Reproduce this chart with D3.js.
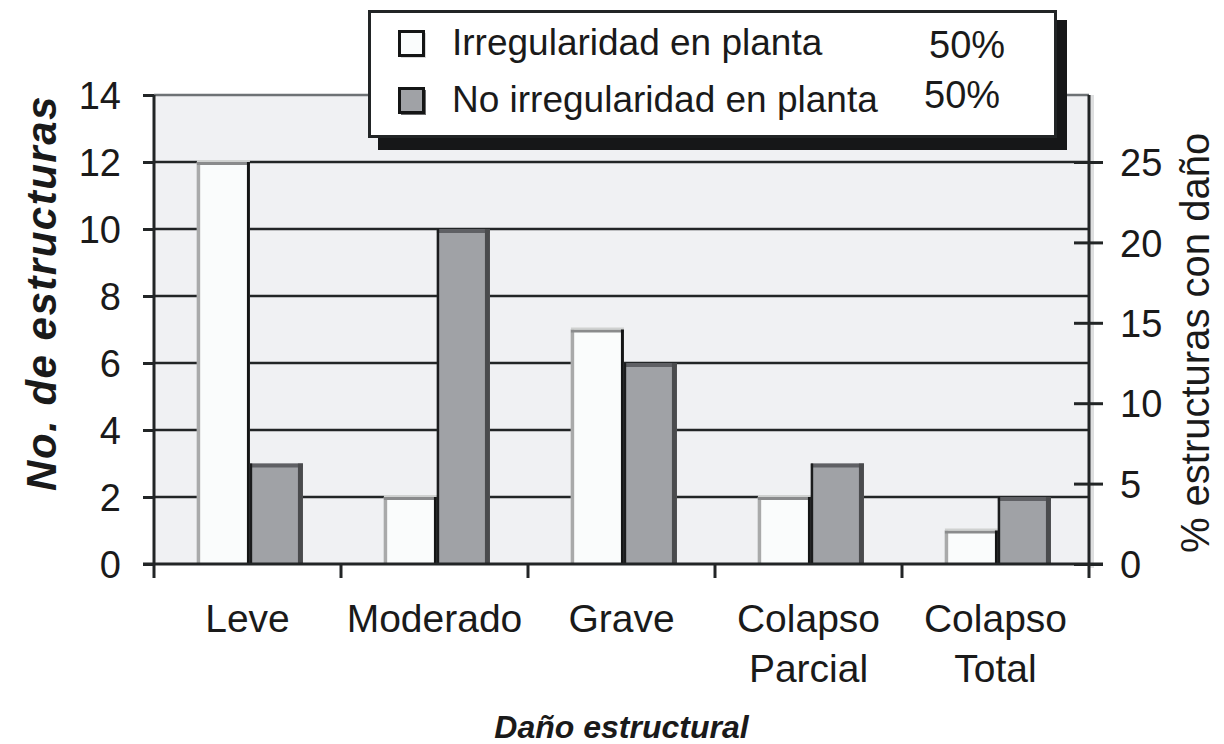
<!DOCTYPE html>
<html>
<head>
<meta charset="utf-8">
<script src="https://cdn.jsdelivr.net/npm/d3@7"></script>
<style>
  body { margin: 0; background: #fff; }
  text { font-family: "Liberation Sans", Arial, sans-serif; fill: #1a1a1a; }
</style>
</head>
<body>
<script>
// data
const categories = ["Leve", "Moderado", "Grave", "Colapso\nParcial", "Colapso\nTotal"];
const irregular = [12, 2, 7, 2, 1];
const noIrregular = [3, 10, 6, 3, 2];
const seriesNames = ["Irregularidad en planta", "No irregularidad en planta"];
const seriesPct = ["50%", "50%"];
const leftTicks = [0, 2, 4, 6, 8, 10, 12, 14];
const rightTicks = [0, 5, 10, 15, 20, 25];

const W = 1224, H = 744;
const plotL = 154, plotR = 1089, plotT = 95, plotB = 564;

const svg = d3.select("body").append("svg")
    .attr("width", W)
    .attr("height", H);

const total = d3.sum(irregular) + d3.sum(noIrregular);

// scales
const x = d3.scaleBand().domain(categories).range([plotL, plotR]);
const xSub = d3.scaleBand().domain(seriesNames).range([0, x.bandwidth()])
    .paddingOuter(0.764).align(0.53);
const y = d3.scaleLinear().domain([0, 14]).range([plotB, plotT]);
const y2 = d3.scaleLinear().domain([0, 14 * 100 / total]).range([plotB, plotT]);

// plot background
svg.append("rect")
    .attr("x", plotR + 1).attr("y", plotT)
    .attr("width", 4).attr("height", plotB - plotT + 4)
    .attr("fill", "#dedfe0");
svg.append("rect")
    .attr("x", plotL).attr("y", plotT)
    .attr("width", plotR - plotL).attr("height", plotB - plotT)
    .attr("fill", "#f0f1f3");

// gridlines
svg.append("g")
    .selectAll("line")
    .data(leftTicks.filter(d => d > 0 && d < 14))
    .enter()
    .append("line")
    .attr("x1", plotL).attr("x2", plotR)
    .attr("y1", d => y(d)).attr("y2", d => y(d))
    .attr("stroke", "#222526").attr("stroke-width", 2.5);

svg.append("line")
    .attr("x1", plotL).attr("x2", plotR)
    .attr("y1", y(14)).attr("y2", y(14))
    .attr("stroke", "#6e7275").attr("stroke-width", 2.5);

// bars
const rows = categories.map((c, i) => ({ c: c, a: irregular[i], b: noIrregular[i] }));
const g = svg.append("g");

rows.forEach(r => {
    const bw = xSub.bandwidth();
    // white bar
    const xa = x(r.c) + xSub(seriesNames[0]);
    const ya = y(r.a);
    g.append("rect").attr("x", xa).attr("y", ya).attr("width", bw).attr("height", plotB - ya)
        .attr("fill", "#fafcfc");
    g.append("line").attr("x1", xa + 1.5).attr("x2", xa + 1.5).attr("y1", ya).attr("y2", plotB)
        .attr("stroke", "#a9aaaa").attr("stroke-width", 3.5);
    g.append("line").attr("x1", xa).attr("x2", xa + bw).attr("y1", ya + 1.5).attr("y2", ya + 1.5)
        .attr("stroke", "#8a8b8c").attr("stroke-width", 3);
    g.append("line").attr("x1", xa).attr("x2", xa + bw).attr("y1", ya - 1).attr("y2", ya - 1)
        .attr("stroke", "#cfd1d0").attr("stroke-width", 2);
    g.append("line").attr("x1", xa + bw - 1.5).attr("x2", xa + bw - 1.5).attr("y1", ya).attr("y2", plotB)
        .attr("stroke", "#141515").attr("stroke-width", 3);

    // grey bar
    const xb = x(r.c) + xSub(seriesNames[1]);
    const yb = y(r.b);
    g.append("rect").attr("x", xb).attr("y", yb).attr("width", bw).attr("height", plotB - yb)
        .attr("fill", "#a0a2a6");
    g.append("line").attr("x1", xb).attr("x2", xb + bw).attr("y1", yb + 2).attr("y2", yb + 2)
        .attr("stroke", "#5f6064").attr("stroke-width", 4);
    g.append("line").attr("x1", xb + bw - 2.5).attr("x2", xb + bw - 2.5).attr("y1", yb).attr("y2", plotB)
        .attr("stroke", "#4a4b4d").attr("stroke-width", 5);
    g.append("line").attr("x1", xb + 1).attr("x2", xb + 1).attr("y1", yb).attr("y2", plotB)
        .attr("stroke", "#1b1c1d").attr("stroke-width", 2.5);
});

// axis lines
svg.append("line").attr("x1", plotL).attr("x2", plotL).attr("y1", plotT).attr("y2", plotB + 14)
    .attr("stroke", "#222526").attr("stroke-width", 3);
svg.append("line").attr("x1", plotR).attr("x2", plotR).attr("y1", plotT).attr("y2", plotB + 14)
    .attr("stroke", "#222526").attr("stroke-width", 3);
svg.append("line").attr("x1", plotL - 11).attr("x2", plotR + 14).attr("y1", plotB).attr("y2", plotB)
    .attr("stroke", "#222526").attr("stroke-width", 3);

// left axis
const yAxis = svg.append("g")
    .attr("transform", `translate(${plotL},0)`)
    .call(d3.axisLeft(y).tickValues(leftTicks).tickSize(11).tickPadding(22));
yAxis.select(".domain").remove();
yAxis.selectAll(".tick line").attr("stroke", "#222526").attr("stroke-width", 3);
yAxis.selectAll(".tick text")
    .attr("font-size", 38).attr("font-family", "Liberation Sans, Arial, sans-serif")
    .attr("fill", "#1a1a1a").attr("dy", "0.36em");

// right axis
const yAxis2 = svg.append("g")
    .attr("transform", `translate(${plotR},0)`)
    .call(d3.axisRight(y2).tickValues(rightTicks).tickSize(14).tickPadding(17));
yAxis2.select(".domain").remove();
yAxis2.selectAll(".tick line").attr("x1", -15).attr("stroke", "#222526").attr("stroke-width", 3);
yAxis2.selectAll(".tick text")
    .attr("font-size", 38).attr("font-family", "Liberation Sans, Arial, sans-serif")
    .attr("fill", "#1a1a1a").attr("dy", "0.36em");

// bottom axis ticks at band edges
svg.append("g")
    .selectAll("line")
    .data(categories.slice(1))
    .enter()
    .append("line")
    .attr("x1", d => x(d)).attr("x2", d => x(d))
    .attr("y1", plotB).attr("y2", plotB + 14)
    .attr("stroke", "#222526").attr("stroke-width", 3);

// category labels
svg.append("g")
    .selectAll("text")
    .data(categories)
    .enter()
    .append("text")
    .attr("text-anchor", "middle")
    .attr("font-size", 39)
    .each(function (d) {
        const t = d3.select(this);
        d.split("\n").forEach((line, i) => {
            t.append("tspan")
                .attr("x", x(d) + x.bandwidth() / 2)
                .attr("y", 632 + i * 50)
                .text(line);
        });
    });

// axis titles
svg.append("text")
    .attr("transform", "translate(56,293) rotate(-90)")
    .attr("text-anchor", "middle")
    .attr("font-size", 42).attr("font-weight", "bold").attr("font-style", "italic")
    .attr("letter-spacing", 1.5)
    .text("No. de estructuras");

svg.append("text")
    .attr("transform", "translate(1209,343) rotate(-90)")
    .attr("text-anchor", "middle")
    .attr("font-size", 40)
    .text("% estructuras con daño");

svg.append("text")
    .attr("x", (plotL + plotR) / 2).attr("y", 738)
    .attr("text-anchor", "middle")
    .attr("font-size", 32).attr("font-weight", "bold").attr("font-style", "italic")
    .text("Daño estructural");

// legend
const lg = svg.append("g");
lg.append("rect").attr("x", 378).attr("y", 20).attr("width", 689).attr("height", 130).attr("fill", "#161718");
lg.append("rect").attr("x", 369.5).attr("y", 11.5).attr("width", 686).attr("height", 125)
    .attr("fill", "#fff").attr("stroke", "#222526").attr("stroke-width", 3);

const swatchFill = ["#fafcfc", "#a0a2a6"];
const rowY = [44, 101];
const textBase = [55, 112];
const pctX = [929, 924];
const pctBase = [58, 108];

seriesNames.forEach((name, i) => {
    lg.append("rect").attr("x", 401).attr("y", rowY[i] - 11).attr("width", 25).attr("height", 25)
        .attr("fill", i === 0 ? "#d8d8d8" : "#6a6b6d");
    lg.append("rect").attr("x", 399.5).attr("y", rowY[i] - 12.5).attr("width", 24).attr("height", 24)
        .attr("fill", swatchFill[i]).attr("stroke", "#141515").attr("stroke-width", 3);
    lg.append("text").attr("x", 452).attr("y", textBase[i])
        .attr("font-size", 37)
        .text(name);
    lg.append("text").attr("x", pctX[i]).attr("y", pctBase[i])
        .attr("font-size", 38).attr("fill", "#2a2a2a")
        .text(seriesPct[i]);
});
</script>
</body>
</html>
